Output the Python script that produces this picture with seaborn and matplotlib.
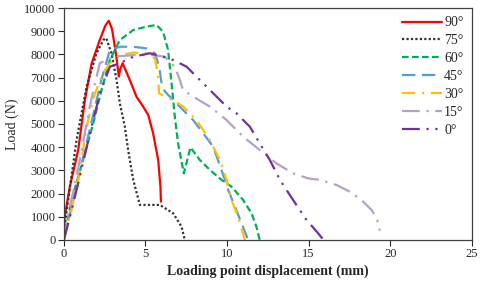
import matplotlib
matplotlib.use("Agg")
import matplotlib.pyplot as plt
import numpy as np
import pandas as pd
import seaborn as sns

# values
angles = ["90°", "75°", "60°", "45°", "30°", "15°", "0°"]

x_90 = [0, 0.05, 0.37, 0.88, 1.29, 1.7, 2.2, 2.55, 2.75, 2.95, 3.2, 3.37, 3.45, 3.6,
        4.04, 4.45, 4.86, 5.17, 5.47, 5.78, 5.92, 5.95]
y_90 = [0, 1000, 2300, 3880, 6030, 7600, 8620, 9250, 9450, 9100, 8000, 7050, 7350, 7620,
        6900, 6180, 5750, 5390, 4600, 3450, 2300, 1650]

x_75 = [0, 0.1, 0.78, 1.39, 2.0, 2.45, 2.6, 2.92, 3.23, 3.43, 3.74, 3.94, 4.25, 4.66,
        5.88, 6.7, 7.21, 7.41]
y_75 = [0, 900, 4310, 6600, 8050, 8650, 8700, 8050, 6900, 5890, 4880, 3880, 2590, 1510,
        1510, 1150, 570, 0]

x_60 = [0, 0.47, 1.18, 1.8, 2.31, 2.82, 3.43, 4.25, 5.07, 5.68, 6.08, 6.39, 6.6, 6.8,
        7.0, 7.35, 7.76, 8.33, 8.95, 9.66, 10.27, 10.99, 11.5, 11.8, 12.0]
y_60 = [0, 1720, 3450, 5030, 6470, 7760, 8620, 9050, 9200, 9270, 8980, 8190, 6750, 5310,
        4170, 2870, 3990, 3450, 3020, 2590, 2300, 1720, 1150, 570, 0]

x_45 = [0, 0.5, 1.2, 1.8, 2.3, 2.82, 3.43, 4.25, 5.07, 5.58, 5.84, 5.99, 6.19, 6.7,
        7.31, 7.92, 8.54, 9.15, 9.66, 10.07, 10.48, 10.89, 11.29]
y_45 = [0, 1500, 3600, 5400, 6900, 8190, 8330, 8330, 8260, 8050, 7470, 6750, 6400, 6030,
        5600, 5170, 4600, 4020, 3020, 2160, 1440, 720, 0]

x_30 = [0, 0.16, 0.47, 1.0, 1.39, 1.9, 2.4, 2.82, 3.43, 4.25, 5.07, 5.58, 5.75, 5.84,
        6.7, 7.31, 8.13, 8.95, 9.56, 9.97, 10.27, 10.68, 11.09]
y_30 = [0, 500, 1290, 3000, 4880, 6300, 7200, 7620, 7970, 8080, 8050, 7830, 7200, 6320,
        6030, 5750, 5170, 4310, 3450, 2590, 1720, 1000, 0]

x_15 = [0, 0.4, 1.0, 1.6, 2.2, 3.02, 4.25, 5.47, 6.19, 6.8, 7.11, 7.3, 7.92, 8.95,
        9.97, 10.99, 12.0, 13.03, 14.05, 15.0, 15.69, 16.71, 17.52, 18.24, 18.86, 19.2, 19.36]
y_15 = [0, 1500, 3500, 5800, 7620, 7900, 7970, 7970, 7900, 7470, 6900, 6470, 6180, 5750,
        5170, 4450, 3880, 3300, 2870, 2650, 2590, 2370, 2080, 1720, 1290, 860, 400]

x_0 = [0, 0.3, 0.9, 1.5, 2.2, 2.82, 3.43, 4.25, 5.27, 6.08, 6.7, 7.52, 8.33, 9.36,
       9.97, 10.58, 11.4, 12.0, 12.62, 13.24, 14.05, 14.87, 15.58, 15.85]
y_0 = [0, 800, 2500, 4300, 6300, 7470, 7620, 7900, 8050, 7900, 7760, 7470, 6900, 6180,
       5750, 5460, 4880, 4170, 3450, 2590, 1720, 860, 290, 50]

series_x = [x_90, x_75, x_60, x_45, x_30, x_15, x_0]
series_y = [y_90, y_75, y_60, y_45, y_30, y_15, y_0]

colors = ["#FF0000", "#333333", "#00B050", "#5B9BD5", "#FFC000", "#B3A2C7", "#7030A0"]
dashes = ["", (1, 1), (3, 1.5), (6, 3), (6, 3, 1, 3), (8, 3, 1, 3), (8, 3, 1, 3, 1, 3)]

frames = []
for name, xs, ys in zip(angles, series_x, series_y):
    frames.append(pd.DataFrame({"disp": xs, "load": ys, "angle": name}))
df = pd.concat(frames, ignore_index=True)

sns.set_style("ticks")
plt.rcParams["font.family"] = ["Liberation Serif", "DejaVu Serif"]

fig = plt.figure(figsize=(4.8, 2.87), dpi=100)
ax = fig.add_axes([0.133, 0.164, 0.85, 0.808])

sns.lineplot(data=df, x="disp", y="load", hue="angle", style="angle",
             hue_order=angles, style_order=angles,
             palette=dict(zip(angles, colors)), dashes=dict(zip(angles, dashes)),
             sort=False, estimator=None, linewidth=1.6, ax=ax)

ax.set_xlim(0, 25)
ax.set_ylim(0, 10000)
ax.set_xticks(np.arange(0, 26, 5))
ax.set_yticks(np.arange(0, 10001, 1000))
ax.tick_params(direction="out", length=4, width=0.8, labelsize=9, pad=2)
for sp in ax.spines.values():
    sp.set_visible(True)
    sp.set_color("#404040")
    sp.set_linewidth(0.9)

ax.set_xlabel("Loading point displacement (mm)", fontsize=10, fontweight="bold", labelpad=3)
ax.set_ylabel("Load (N)", fontsize=10, labelpad=4)

ax.legend(loc="upper right", frameon=False, fontsize=10, handlelength=2.9,
          handletextpad=0.15, labelspacing=0.35, borderaxespad=0.2)

fig.savefig("out.png", dpi=100)
